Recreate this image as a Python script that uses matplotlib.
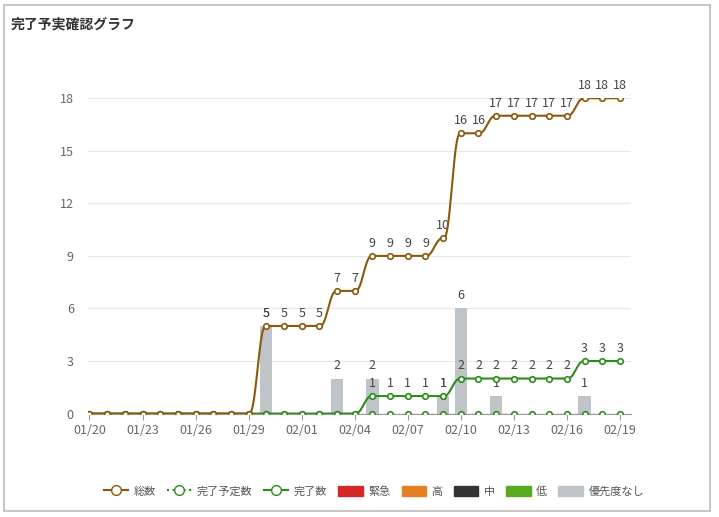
import numpy as np
import matplotlib.pyplot as plt
from matplotlib.lines import Line2D
from matplotlib.patches import Patch, Rectangle

plt.rcParams['font.family'] = ['Noto Sans CJK JP', 'DejaVu Sans']

# data
dates = ['01/20', '01/21', '01/22', '01/23', '01/24', '01/25', '01/26', '01/27', '01/28', '01/29',
         '01/30', '01/31', '02/01', '02/02', '02/03', '02/04', '02/05', '02/06', '02/07', '02/08',
         '02/09', '02/10', '02/11', '02/12', '02/13', '02/14', '02/15', '02/16', '02/17', '02/18', '02/19']
total = [0, 0, 0, 0, 0, 0, 0, 0, 0, 0, 5, 5, 5, 5, 7, 7, 9, 9, 9, 9, 10, 16, 16, 17, 17, 17, 17, 17, 18, 18, 18]
planned = [0] * 31
done = [0, 0, 0, 0, 0, 0, 0, 0, 0, 0, 0, 0, 0, 0, 0, 0, 1, 1, 1, 1, 1, 2, 2, 2, 2, 2, 2, 2, 3, 3, 3]
no_prio = [0, 0, 0, 0, 0, 0, 0, 0, 0, 0, 5, 0, 0, 0, 2, 0, 2, 0, 0, 0, 1, 6, 0, 1, 0, 0, 0, 0, 1, 0, 0]

c_total = '#8a5a0b'
c_green = '#2e8b1e'
c_bar = '#bfc4c8'


def smooth(y, k=30):
    # smootherstep between points, for the rounded look of the curves
    xs, ys = [], []
    for i in range(len(y) - 1):
        t = np.linspace(0, 1, k, endpoint=False)
        s = t ** 3 * (t * (6 * t - 15) + 10)
        xs.extend(i + t)
        ys.extend(y[i] + (y[i + 1] - y[i]) * s)
    xs.append(len(y) - 1)
    ys.append(y[-1])
    return np.array(xs), np.array(ys)


fig = plt.figure(figsize=(7.19, 5.17), dpi=100)
fig.patches.append(Rectangle((0.006, 0.012), 0.982, 0.978, transform=fig.transFigure,
                             fill=False, edgecolor='#bbbbbb', linewidth=1.2))
fig.text(0.015, 0.945, '完了予実確認グラフ', fontsize=10, fontweight='bold', color='#333333')

ax = fig.add_axes([0.122, 0.2, 0.755, 0.61])
x = np.arange(len(dates))

ax.bar(x, no_prio, width=0.7, color=c_bar, zorder=1)
for i, v in enumerate(no_prio):
    if v:
        ax.text(i, v + 0.35, str(v), ha='center', va='bottom', fontsize=9, color='#444444')

sx, sy = smooth(planned)
ax.plot(sx, sy, color=c_green, linestyle=':', linewidth=1, zorder=2)
ax.plot(x, planned, 'o', color=c_green, markerfacecolor='white', markersize=4, markeredgewidth=1.2, zorder=3)

sx, sy = smooth(done)
ax.plot(sx, sy, color=c_green, linewidth=1.5, zorder=2)
ax.plot(x, done, 'o', color=c_green, markerfacecolor='white', markersize=4, markeredgewidth=1.2, zorder=3)
for i, v in enumerate(done):
    if v:
        ax.text(i, v + 0.35, str(v), ha='center', va='bottom', fontsize=9, color='#444444')

sx, sy = smooth(total)
ax.plot(sx, sy, color=c_total, linewidth=1.5, zorder=4)
ax.plot(x, total, 'o', color=c_total, markerfacecolor='white', markersize=4, markeredgewidth=1.2, zorder=5)
for i, v in enumerate(total):
    if v:
        ax.text(i, v + 0.35, str(v), ha='center', va='bottom', fontsize=9, color='#444444')

ax.set_xlim(-0.1, 30.6)
ax.set_ylim(0, 18)
ax.set_yticks([0, 3, 6, 9, 12, 15, 18])
ax.set_xticks(x[::3])
ax.set_xticklabels(dates[::3])
ax.tick_params(axis='y', length=0, labelsize=9, labelcolor='#666666', pad=10)
ax.tick_params(axis='x', length=4, color='#999999', labelsize=9, labelcolor='#666666')
ax.grid(axis='y', color='#e6e6e6', linewidth=0.8)
ax.set_axisbelow(True)
for s in ['top', 'right', 'left']:
    ax.spines[s].set_visible(False)
ax.spines['bottom'].set_color('#999999')

handles = [
    Line2D([], [], color=c_total, marker='o', markerfacecolor='white', markersize=7, linewidth=1.5),
    Line2D([], [], color=c_green, marker='o', markerfacecolor='white', markersize=7, linestyle=':'),
    Line2D([], [], color=c_green, marker='o', markerfacecolor='white', markersize=7, linewidth=1.5),
    Patch(color='#d62728'), Patch(color='#e67e22'), Patch(color='#333333'),
    Patch(color='#5aaa1e'), Patch(color=c_bar),
]
labels = ['総数', '完了予定数', '完了数', '緊急', '高', '中', '低', '優先度なし']
fig.legend(handles, labels, loc='center', bbox_to_anchor=(0.52, 0.05), ncol=8, frameon=False,
           fontsize=8, handlelength=2.2, handleheight=1.1, columnspacing=1.0, handletextpad=0.5,
           labelcolor='#555555')

fig.savefig('out.png')
